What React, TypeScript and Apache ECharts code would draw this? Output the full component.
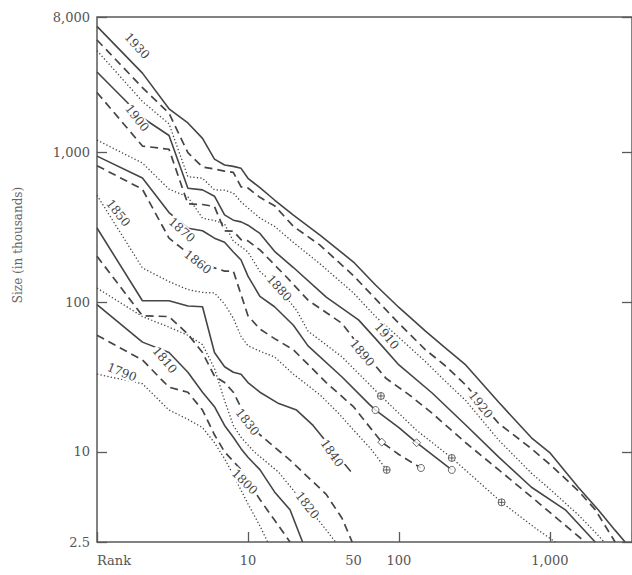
import React, { useEffect, useRef } from 'react';
import * as echarts from 'echarts';

const years = [1790, 1800, 1810, 1820, 1830, 1840, 1850, 1860, 1870, 1880, 1890, 1900, 1910, 1920, 1930];

// [rank, size in thousands]
const s1790 = [[1,33],[2,28.5],[3,19],[4,16.5],[5,14.5],[6,11.5],[7,9],[8,7],[10,4.5],[12,3.2],[13.5,2.5]];
const s1800 = [[1,60],[2,41],[3,27],[4,25],[5,19],[6,13],[7,10],[9,7.6],[12,4.8],[15,3.5],[19,2.5]];
const s1810 = [[1,96],[2,54],[3,46],[4,34],[5,25],[6,20],[7,15],[8,12.5],[9,10.5],[10,9.2],[12,7.6],[15,5.4],[19,4.1],[23,2.5]];
const s1820 = [[1,124],[2,80],[3,68],[4,60],[5,52],[6,36],[7,22],[8,15],[9,12.5],[11,10],[16,7.3],[24,4.4],[30,3.4],[38,2.5]];
const s1830 = [[1,202],[2,81],[3,80],[4,61],[5,46],[6,32],[7,29],[8,25],[10,16],[12,13],[19,8.8],[33,5.2],[42,3.6],[49,2.5]];
const s1840 = [[1,312],[2,102],[3,102],[4,94],[5,93],[6,46],[7,37],[8,34],[9,33],[10,29],[12,25],[16,21],[21,19],[27,15],[36,10.5],[48,7.4]];
const s1850 = [[1,516],[2,169],[3,137],[4,121],[5,116],[6,115],[7,97],[8,78],[9,59],[10,51],[12,47],[15,43],[20,33],[30,24],[40,18],[50,14],[65,10.5],[83,7.57]];
const s1860 = [[1,814],[2,566],[3,267],[4,212],[5,178],[6,169],[7,161],[8,161],[9,112],[10,81],[12,66],[15,57],[20,48],[33,29],[50,20],[77,11.6],[100,9.6],[140,7.8]];
const s1870 = [[1,942],[2,674],[3,396],[4,311],[5,299],[6,267],[7,251],[8,216],[9,191],[10,149],[12,109],[15,93],[20,70],[25,51],[42,31.6],[63,21],[70,19],[100,14.5],[131,11.5],[224,7.57]];
const s1880 = [[1,1206],[2,847],[3,567],[4,503],[5,363],[6,350],[7,332],[8,255],[9,234],[10,216],[12,160],[16,124],[21,88],[25,64],[42,43],[76,23.6],[130,14],[224,9.1],[479,4.6],[800,3.1],[1087,2.5]];
const s1890 = [[1,2507],[2,1100],[3,1047],[4,452],[5,448],[6,434],[7,299],[8,297],[9,261],[10,256],[12,223],[18,147],[25,103],[42,72],[57,48],[82,31],[117,24],[165,18.2],[277,11.5],[457,7.6],[755,5.0],[1150,3.5],[1714,2.5]];
const s1900 = [[1,3437],[2,1699],[3,1294],[4,575],[5,561],[6,509],[7,382],[8,352],[9,343],[10,326],[12,287],[15,218],[20,170],[33,108],[54,76],[70,57],[100,38],[166,24.7],[277,15.1],[457,9.25],[755,5.8],[1266,4.1],[1995,2.5]];
const s1910 = [[1,4767],[2,2185],[3,1549],[4,687],[5,671],[6,561],[7,558],[8,534],[9,466],[10,424],[12,364],[15,320],[20,250],[30,180],[50,115],[70,80],[100,58],[150,40],[200,30],[277,22],[457,12],[755,7.2],[1007,5.6],[1541,3.8],[2000,2.9],[2288,2.5]];
const s1920 = [[1,5620],[2,2702],[3,1824],[4,994],[5,797],[6,773],[7,748],[8,734],[9,588],[10,577],[12,500],[15,440],[20,320],[30,240],[50,150],[70,105],[100,72],[150,48],[200,38],[277,28],[457,15.5],[755,10.5],[1007,8.2],[1541,5.5],[2000,4.1],[2705,2.5]];
const s1930 = [[1,6930],[2,3376],[3,1951],[4,1569],[5,1238],[6,900],[7,822],[8,805],[9,781],[10,670],[12,580],[15,480],[20,380],[30,280],[50,185],[70,130],[100,92],[150,64],[200,50],[277,38],[457,21.5],[755,12.4],[1007,9.8],[1541,5.8],[2089,4.1],[2700,3.0],[3150,2.5]];

const yearData = [s1790, s1800, s1810, s1820, s1830, s1840, s1850, s1860, s1870, s1880, s1890, s1900, s1910, s1920, s1930];

// year label anchor [rank, size] and rotation (degrees)
const labelPos = [[1.46,34],[9.5,6.3],[2.81,41],[24.7,4.4],[9.9,15.8],[36,9.8],[1.38,393],[4.64,185],[3.64,303],[16.1,124],[57,45.7],[1.84,1694],[83,59.3],[348,20.6],[1.84,5120]];
const labelRot = [-22, -45, -50, -52, -52, -55, -52, -38, -42, -48, -50, -52, -50, -52, -47];

// end / break markers on the curves
const markersCross = [[76,23.6],[224,9.1],[479,4.6],[83,7.57]];
const markersCircle = [[70,19],[224,7.57],[140,7.8]];
const markersDiamond = [[131,11.5],[77,11.6]];

const xLabelValues = [10, 50, 100, 1000];
const xLabelTexts = ['10', '50', '100', '1,000'];

export default function App() {
  const ref = useRef<HTMLDivElement>(null);
  useEffect(() => {
    const chart = echarts.init(ref.current!, null, { renderer: 'svg' });
    const font = 'DejaVu Serif';
    const ink = '#454545';
    const axisInk = '#5a5a5a';

    const series: any[] = years.map((y, i) => {
      const kind = i % 3; // 0 dotted, 1 dashed, 2 solid
      return {
        name: String(y),
        type: 'line',
        data: yearData[i],
        symbol: 'none',
        smooth: false,
        lineStyle: {
          color: ink,
          width: kind === 2 ? 1.6 : kind === 1 ? 1.7 : 1.3,
          type: kind === 0 ? [1.3, 2.2] : kind === 1 ? [8, 5] : 'solid',
        },
        z: 2,
      };
    });
    const mk = { color: '#fff', borderColor: ink, borderWidth: 1 };
    series.push({
      type: 'scatter', data: markersCross, z: 6,
      symbol: 'path://M0,10a10,10 0 1,0 20,0a10,10 0 1,0 -20,0M0,10h20M10,0v20',
      symbolSize: 7, itemStyle: mk,
    });
    series.push({ type: 'scatter', data: markersCircle, z: 6, symbol: 'circle', symbolSize: 7, itemStyle: mk });
    series.push({ type: 'scatter', data: markersDiamond, z: 6, symbol: 'diamond', symbolSize: 8, itemStyle: mk });

    const tickStyle = { inside: true, length: 10, lineStyle: { color: axisInk, width: 1.3 } };

    chart.setOption({
      animation: false,
      backgroundColor: '#fff',
      grid: {
        left: 97, right: -2, top: 17, bottom: 33,
        show: true, borderColor: axisInk, borderWidth: 1.5, backgroundColor: 'transparent',
      },
      xAxis: {
        type: 'log', logBase: 10, min: 1, max: 3500,
        axisLine: { show: false },
        axisTick: tickStyle,
        splitLine: { show: false },
        axisLabel: { show: false },
      },
      yAxis: [
        {
          type: 'log', logBase: 10, min: 2.5, max: 8000,
          axisLine: { show: false },
          axisTick: tickStyle,
          splitLine: { show: false },
          axisLabel: {
            margin: 7, fontFamily: font, fontSize: 13, color: '#555',
            formatter: (v: number) => Number(v.toPrecision(6)).toLocaleString('en-US'),
          },
        },
        {
          type: 'log', logBase: 10, min: 2.5, max: 8000, position: 'right',
          axisLine: { show: false },
          axisTick: tickStyle,
          splitLine: { show: false },
          axisLabel: { show: false },
        },
      ],
      series,
    });

    const px = (pt: number[]) => chart.convertToPixel({ gridIndex: 0 }, pt) as number[];
    const graphics: any[] = [];
    years.forEach((y, i) => {
      const [x, yy] = px(labelPos[i]);
      graphics.push({
        type: 'text', x, y: yy, rotation: (labelRot[i] * Math.PI) / 180, z: 50,
        style: {
          text: String(y), fill: ink, fontFamily: font, fontSize: 12,
          align: 'center', verticalAlign: 'middle', backgroundColor: '#fff', padding: [0, 1],
        },
      });
    });
    const base = px([1, 2.5]);
    xLabelValues.forEach((v, i) => {
      const [x] = px([v, 2.5]);
      graphics.push({
        type: 'text', x, y: base[1] + 12, z: 50,
        style: { text: xLabelTexts[i], fill: '#555', fontFamily: font, fontSize: 13, align: 'center', verticalAlign: 'top' },
      });
    });
    graphics.push({
      type: 'text', x: base[0], y: base[1] + 12, z: 50,
      style: { text: 'Rank', fill: '#555', fontFamily: font, fontSize: 13, align: 'left', verticalAlign: 'top' },
    });
    graphics.push({
      type: 'text', x: 18, y: 245, rotation: Math.PI / 2, z: 50,
      style: { text: 'Size (in thousands)', fill: '#666', fontFamily: font, fontSize: 12, align: 'center', verticalAlign: 'middle' },
    });
    chart.setOption({ graphic: graphics });

    return () => chart.dispose();
  }, []);
  return <div ref={ref} style={{ position: 'fixed', left: 0, top: 0, width: 632, height: 575 }} />;
}
